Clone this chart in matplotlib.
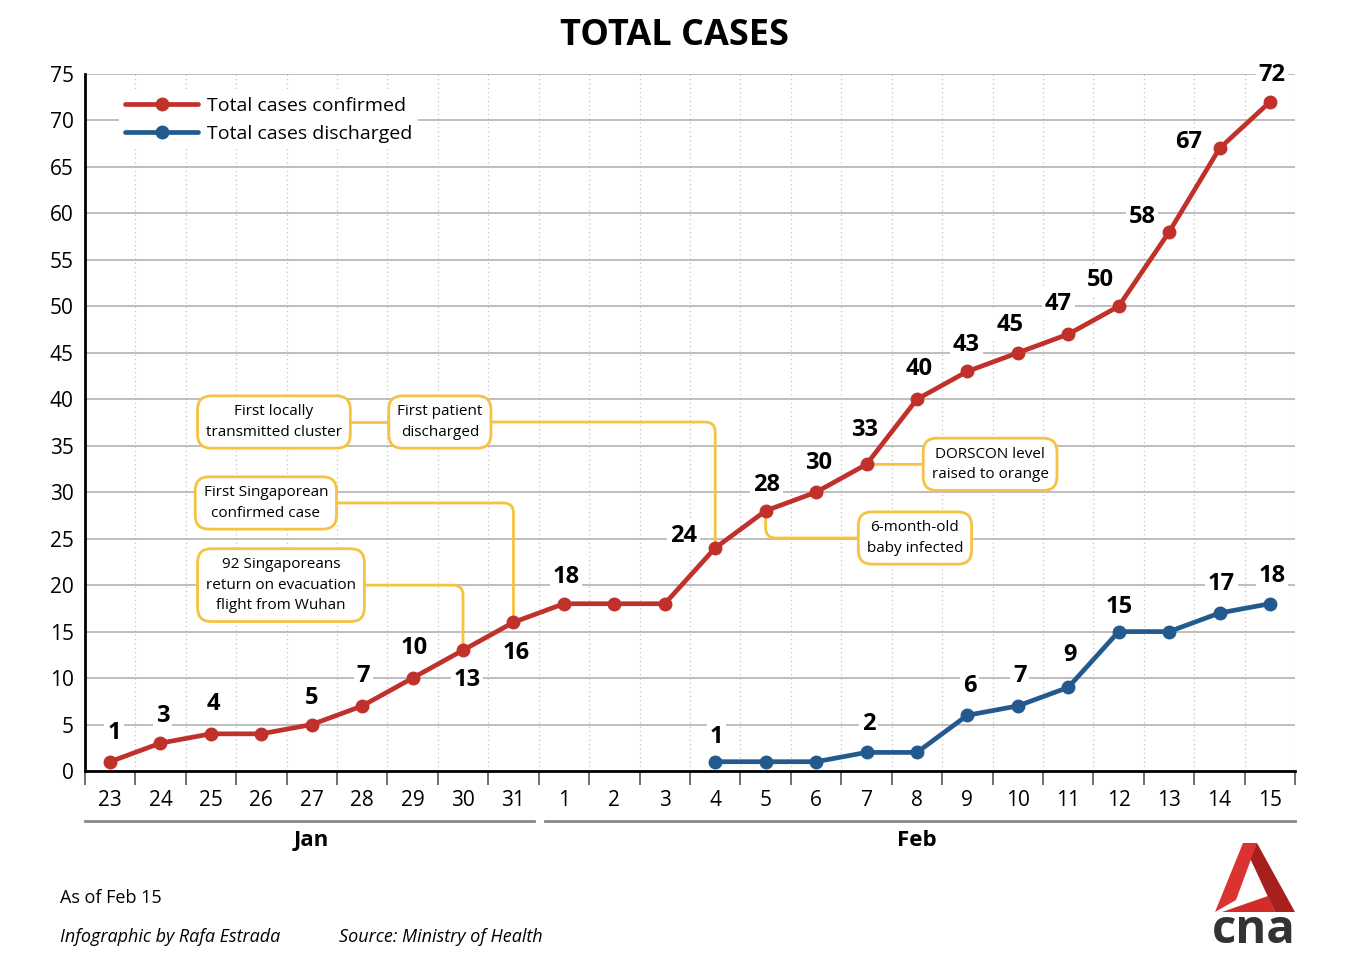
import matplotlib
matplotlib.use("Agg")
import matplotlib.pyplot as plt
from matplotlib.patches import Polygon

plt.rcParams['font.family'] = ['Open Sans', 'DejaVu Sans']

# data
dates = ["23", "24", "25", "26", "27", "28", "29", "30", "31",
         "1", "2", "3", "4", "5", "6", "7", "8", "9", "10", "11", "12", "13", "14", "15"]
confirmed = [1, 3, 4, 4, 5, 7, 10, 13, 16, 18, 18, 18, 24, 28, 30, 33, 40, 43, 45, 47, 50, 58, 67, 72]
discharged_start = 12   # Feb 4
discharged = [1, 1, 1, 2, 2, 6, 7, 9, 15, 15, 17, 18]

# which points get a number, and where (offset in pixels from the point)
conf_labels = {0: (4, 29), 1: (2, 27), 2: (2, 30), 4: (0, 27), 5: (1, 30), 6: (2, 30),
               7: (4, -30), 8: (3, -31), 9: (2, 27), 12: (-32, 12), 13: (1, 26), 14: (2, 29),
               15: (-2, 34), 16: (2, 30), 17: (-1, 26), 18: (-8, 28), 19: (-10, 30),
               20: (-18, 26), 21: (-27, 15), 22: (-31, 6), 23: (2, 27)}
dis_labels = {12: (1, 25), 15: (2, 28), 17: (2, 29), 18: (2, 30), 19: (2, 32),
              20: (0, 25), 22: (2, 29), 23: (2, 28)}

RED = '#C1312B'
BLUE = '#235A8E'
YEL = '#F5C242'

W, H = 1352, 972
fig = plt.figure(figsize=(W / 100, H / 100), dpi=100)
ax = fig.add_axes([84.8 / W, 1 - 771 / H, 1210.4 / W, 697 / H])

xs = list(range(len(dates)))
xd = xs[discharged_start:]

ax.plot(xs, confirmed, color=RED, lw=3.4, marker='o', ms=9, zorder=5, label='Total cases confirmed',
        solid_capstyle='round')
ax.plot(xd, discharged, color=BLUE, lw=3.4, marker='o', ms=9, zorder=5, label='Total cases discharged',
        solid_capstyle='round')

ax.set_xlim(-0.5, 23.5)
ax.set_ylim(0, 75)
ax.set_yticks(range(0, 76, 5))
ax.set_xticks(xs)
ax.set_xticklabels(dates)
ax.set_xticks([i - 0.5 for i in range(len(dates) + 1)], minor=True)
ax.tick_params(axis='x', which='major', length=0, labelsize=15, pad=14)
ax.tick_params(axis='x', which='minor', length=10, width=1.2, color='#555555', direction='out')
ax.tick_params(axis='y', length=0, labelsize=15, pad=8)

ax.grid(axis='y', which='major', color='#b3b3b3', lw=1.2)
ax.grid(axis='x', which='minor', color='#c4c4c4', lw=0.9, ls=(0, (1, 2.5)))
ax.grid(axis='x', which='major', visible=False)
ax.set_axisbelow(True)
for s in ['top', 'right']:
    ax.spines[s].set_visible(False)
ax.spines['left'].set_linewidth(2)
ax.spines['bottom'].set_linewidth(2)

# value labels
lab_box = dict(boxstyle='square,pad=0.12', fc='white', ec='none')
for i, (dx, dy) in conf_labels.items():
    ax.annotate(str(confirmed[i]), (i, confirmed[i]), xytext=(dx, dy), textcoords='offset pixels',
                ha='center', va='center', fontsize=17, fontweight='bold', bbox=lab_box, zorder=4)
for i, (dx, dy) in dis_labels.items():
    v = discharged[i - discharged_start]
    ax.annotate(str(v), (i, v), xytext=(dx, dy), textcoords='offset pixels',
                ha='center', va='center', fontsize=17, fontweight='bold', bbox=lab_box, zorder=4)

# event callouts
cbox = dict(boxstyle='round,pad=0.55,rounding_size=0.9', fc='white', ec=YEL, lw=2)


def callout(txt, pt, box, style):
    ax.annotate(txt, xy=pt, xytext=box, textcoords='data', ha='center', va='center',
                fontsize=11, linespacing=1.5, bbox=cbox, zorder=3,
                arrowprops=dict(arrowstyle='-', color=YEL, lw=2, shrinkA=0, shrinkB=0,
                                connectionstyle=style))


ax.plot([3.25, 6.54], [37.55, 37.55], color=YEL, lw=2, zorder=2.5)
ax.text(3.25, 37.55, "First locally\ntransmitted cluster", ha='center', va='center',
        fontsize=11, linespacing=1.5, bbox=cbox, zorder=3)
callout("First patient\ndischarged", (12, confirmed[12]), (6.54, 37.55), 'angle,angleA=0,angleB=90,rad=10')
callout("First Singaporean\nconfirmed case", (8, confirmed[8]), (3.09, 28.84), 'angle,angleA=0,angleB=90,rad=10')
callout("92 Singaporeans\nreturn on evacuation\nflight from Wuhan", (7, confirmed[7]), (3.39, 20.0),
        'angle,angleA=0,angleB=90,rad=10')
callout("DORSCON level\nraised to orange", (15, confirmed[15]), (17.45, 33.0), 'arc3')
callout("6-month-old\nbaby infected", (13, confirmed[13]), (15.96, 25.07), 'angle,angleA=0,angleB=90,rad=10')

# legend
leg = ax.legend(loc='upper left', bbox_to_anchor=(0.02, 0.99), fontsize=14, frameon=True,
                fancybox=False, edgecolor='none', framealpha=1, handlelength=3.8,
                handletextpad=0.45, labelspacing=0.55, borderpad=0.3)

# month brackets
tr = ax.get_xaxis_transform()
ax.plot([-0.5, 8.4], [-0.072, -0.072], transform=tr, color='#888888', lw=2, clip_on=False)
ax.plot([8.63, 23.5], [-0.072, -0.072], transform=tr, color='#888888', lw=2, clip_on=False)
ax.text(4, -0.1, "Jan", transform=tr, ha='center', va='center', fontsize=16, fontweight='bold')
ax.text(16, -0.1, "Feb", transform=tr, ha='center', va='center', fontsize=16, fontweight='bold')


def fx(px):
    return px / W


def fy(py):
    return 1 - py / H


fig.text(fx(674), fy(36), "TOTAL CASES", ha='center', va='center', fontsize=26, fontweight='bold')
fig.text(fx(60), fy(898), "As of Feb 15", ha='left', va='center', fontsize=13)
fig.text(fx(60), fy(937), "Infographic by Rafa Estrada", ha='left', va='center', fontsize=13, style='italic')
fig.text(fx(339), fy(937), "Source: Ministry of Health", ha='left', va='center', fontsize=13, style='italic')

# cna logo
a_left = [(1215, 912), (1243, 843), (1257, 843), (1236, 900)]
a_right = [(1243, 843), (1257, 843), (1295, 912), (1275, 912)]
a_bar = [(1222, 912), (1268, 896), (1275, 912)]
for pts, col in [(a_right, '#A8201E'), (a_left, '#DA3330'), (a_bar, '#D02C2A')]:
    fig.patches.append(Polygon([(fx(x), fy(y)) for x, y in pts], closed=True, fc=col, ec='none',
                               transform=fig.transFigure, figure=fig))
fig.text(fx(1254), fy(930), "cna", ha='center', va='center', fontsize=34, fontweight='bold', color='#333333')

fig.savefig('out.png', dpi=100)
